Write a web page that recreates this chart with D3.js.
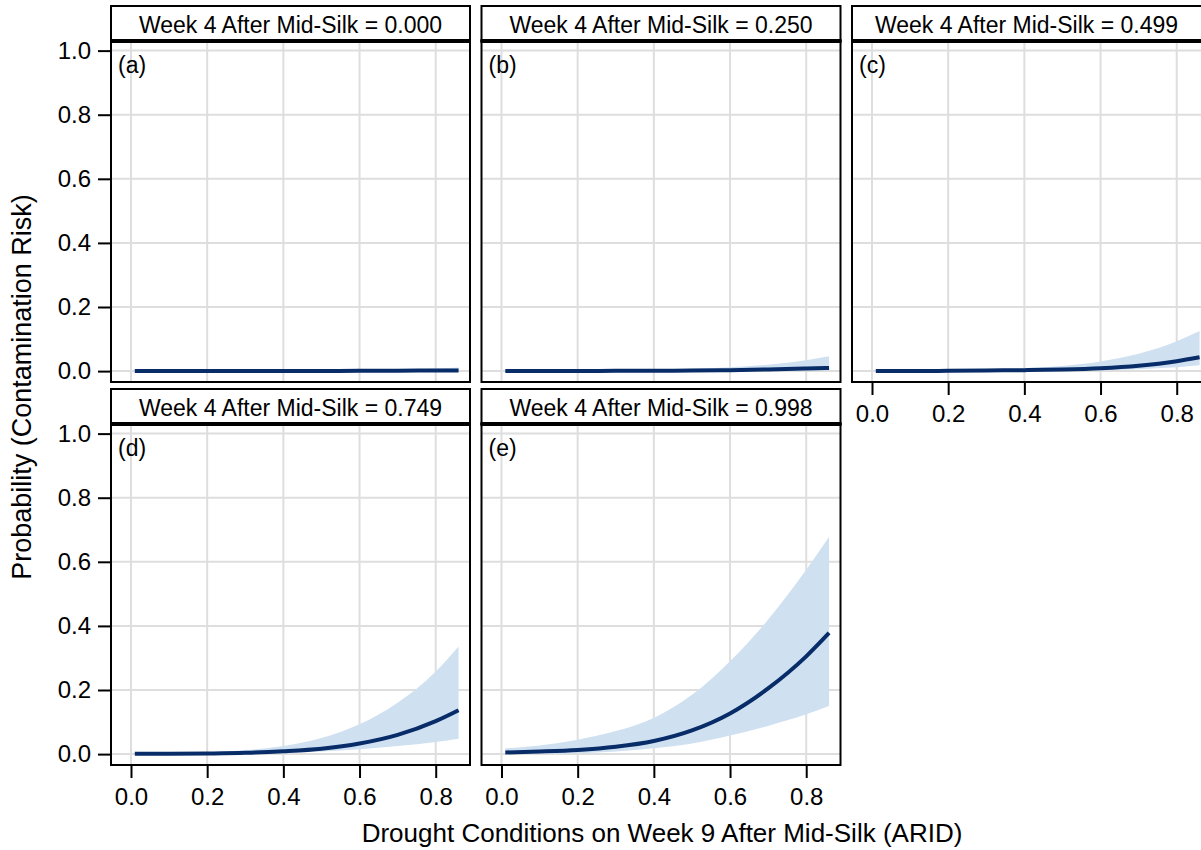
<!DOCTYPE html>
<html>
<head>
<meta charset="utf-8">
<script src="https://cdn.jsdelivr.net/npm/d3@7/dist/d3.min.js"></script>
<style>
  html, body { margin: 0; padding: 0; background: #fff; }
  svg { display: block; font-family: Arial, "Liberation Sans", sans-serif; }
</style>
</head>
<body>
<svg id="chart" width="1201" height="850"></svg>
<script>
// ---------- data ----------
const xValues = [0.01, 0.1, 0.2, 0.3, 0.4, 0.5, 0.6, 0.7, 0.8, 0.86];

const meanA  = [0.000, 0.000, 0.000, 0.000, 0.000, 0.000, 0.001, 0.001, 0.002, 0.002];
const lowerA = [0.000, 0.000, 0.000, 0.000, 0.000, 0.000, 0.000, 0.000, 0.000, 0.000];
const upperA = [0.000, 0.000, 0.000, 0.000, 0.001, 0.001, 0.002, 0.004, 0.008, 0.011];

const meanB  = [0.000, 0.000, 0.000, 0.001, 0.001, 0.002, 0.003, 0.005, 0.008, 0.010];
const lowerB = [0.000, 0.000, 0.000, 0.000, 0.000, 0.000, 0.001, 0.001, 0.002, 0.002];
const upperB = [0.000, 0.001, 0.001, 0.002, 0.004, 0.007, 0.012, 0.020, 0.034, 0.046];

const meanC  = [0.000, 0.000, 0.001, 0.002, 0.003, 0.005, 0.009, 0.017, 0.031, 0.043];
const lowerC = [0.000, 0.000, 0.000, 0.000, 0.001, 0.001, 0.003, 0.006, 0.012, 0.018];
const upperC = [0.001, 0.002, 0.003, 0.005, 0.009, 0.016, 0.030, 0.054, 0.093, 0.125];

const meanD  = [0.001, 0.001, 0.002, 0.004, 0.009, 0.017, 0.033, 0.060, 0.103, 0.137];
const lowerD = [0.000, 0.000, 0.001, 0.002, 0.004, 0.008, 0.015, 0.025, 0.038, 0.048];
const upperD = [0.003, 0.004, 0.006, 0.012, 0.025, 0.050, 0.093, 0.160, 0.258, 0.336];

const meanE  = [0.005, 0.008, 0.013, 0.023, 0.041, 0.074, 0.127, 0.205, 0.305, 0.378];
const lowerE = [0.000, 0.001, 0.003, 0.008, 0.018, 0.033, 0.058, 0.088, 0.124, 0.150];
const upperE = [0.018, 0.027, 0.045, 0.072, 0.113, 0.185, 0.290, 0.420, 0.575, 0.678];

const panelTitles = [
  "Week 4 After Mid-Silk = 0.000",
  "Week 4 After Mid-Silk = 0.250",
  "Week 4 After Mid-Silk = 0.499",
  "Week 4 After Mid-Silk = 0.749",
  "Week 4 After Mid-Silk = 0.998"
];
const panelLetters = ["(a)", "(b)", "(c)", "(d)", "(e)"];
const xTicks = [0.0, 0.2, 0.4, 0.6, 0.8];
const yTicks = [0.0, 0.2, 0.4, 0.6, 0.8, 1.0];
const xTitle = "Drought Conditions on Week 9 After Mid-Silk (ARID)";
const yTitle = "Probability (Contamination Risk)";

const panels = [
  { mean: meanA, lower: lowerA, upper: upperA },
  { mean: meanB, lower: lowerB, upper: upperB },
  { mean: meanC, lower: lowerC, upper: upperC },
  { mean: meanD, lower: lowerD, upper: upperD },
  { mean: meanE, lower: lowerE, upper: upperE }
];

// ---------- layout ----------
const W = 1201, H = 850;
const left0 = 111, colStep = 370.5, panelW = 359;
const top0 = 6, rowStep = 383, stripH = 35, plotH = 341;
const lineColor = "#082c68", bandColor = "#cfe0f1", gridColor = "#dedede";
const FONT = "Arial, 'Liberation Sans', sans-serif";

const svg = d3.select("#chart");
svg.append("rect").attr("width", W).attr("height", H).attr("fill", "#fff");

panels.forEach((p, i) => {
  const col = i % 3, row = Math.floor(i / 3);
  const left = left0 + col * colStep;
  const stripTop = top0 + row * rowStep;
  const plotTop = stripTop + stripH;
  const plotBottom = plotTop + plotH;

  const x = d3.scaleLinear().domain([-0.0525, 0.890]).range([left, left + panelW]);
  const y = d3.scaleLinear().domain([-0.034, 1.03]).range([plotBottom, plotTop]);

  const g = svg.append("g");

  // gridlines
  g.selectAll(".gx").data(xTicks).join("line")
    .attr("x1", d => x(d)).attr("x2", d => x(d))
    .attr("y1", plotTop).attr("y2", plotBottom)
    .attr("stroke", gridColor).attr("stroke-width", 2);
  g.selectAll(".gy").data(yTicks).join("line")
    .attr("x1", left).attr("x2", left + panelW)
    .attr("y1", d => y(d)).attr("y2", d => y(d))
    .attr("stroke", gridColor).attr("stroke-width", 2);

  const pts = xValues.map((xv, k) => ({ x: xv, m: p.mean[k], lo: p.lower[k], hi: p.upper[k] }));

  g.append("path").datum(pts)
    .attr("fill", bandColor)
    .attr("d", d3.area().curve(d3.curveMonotoneX)
      .x(d => x(d.x)).y0(d => y(d.lo)).y1(d => y(d.hi)));

  g.append("path").datum(pts)
    .attr("fill", "none").attr("stroke", lineColor).attr("stroke-width", 4)
    .attr("d", d3.line().curve(d3.curveMonotoneX).x(d => x(d.x)).y(d => y(d.m)));

  // plot border
  g.append("rect").attr("x", left).attr("y", plotTop)
    .attr("width", panelW).attr("height", plotH)
    .attr("fill", "none").attr("stroke", "#000").attr("stroke-width", 2);

  // strip
  g.append("rect").attr("x", left).attr("y", stripTop)
    .attr("width", panelW).attr("height", stripH)
    .attr("fill", "#fff").attr("stroke", "#000").attr("stroke-width", 2);
  g.append("line").attr("x1", left - 1).attr("x2", left + panelW + 1)
    .attr("y1", plotTop).attr("y2", plotTop)
    .attr("stroke", "#000").attr("stroke-width", 4);

  const visRight = Math.min(left + panelW, W);
  g.append("text").attr("x", (left + visRight) / 2).attr("y", stripTop + 26.5)
    .attr("text-anchor", "middle").attr("font-size", 23).attr("fill", "#000")
    .text(panelTitles[i]);

  g.append("text").attr("x", left + 7).attr("y", plotTop + 32)
    .attr("font-size", 23).attr("fill", "#000")
    .text(panelLetters[i]);

  // y axis on left column
  if (col === 0) {
    const ax = g.append("g").attr("transform", `translate(${left - 1},0)`)
      .call(d3.axisLeft(y).tickValues(yTicks).tickSize(12).tickPadding(7).tickFormat(d3.format(".1f")));
    ax.select(".domain").remove();
    ax.selectAll(".tick line").attr("stroke", "#000").attr("stroke-width", 2);
    ax.selectAll(".tick text").attr("font-size", 24).attr("fill", "#000")
      .attr("font-family", FONT);
  }
  // x axis where no panel below
  if (row === 1 || col === 2) {
    const ax = g.append("g").attr("transform", `translate(0,${plotBottom + 1})`)
      .call(d3.axisBottom(x).tickValues(xTicks).tickSize(12).tickPadding(10).tickFormat(d3.format(".1f")));
    ax.select(".domain").remove();
    ax.selectAll(".tick line").attr("stroke", "#000").attr("stroke-width", 2);
    ax.selectAll(".tick text").attr("font-size", 24).attr("fill", "#000")
      .attr("font-family", FONT);
  }
});

// axis titles
svg.append("text").attr("x", 662).attr("y", 842)
  .attr("text-anchor", "middle").attr("font-size", 26).attr("fill", "#000")
  .text(xTitle);
svg.append("text").attr("transform", "translate(31,387) rotate(-90)")
  .attr("text-anchor", "middle").attr("font-size", 27).attr("fill", "#000")
  .text(yTitle);
</script>
</body>
</html>
